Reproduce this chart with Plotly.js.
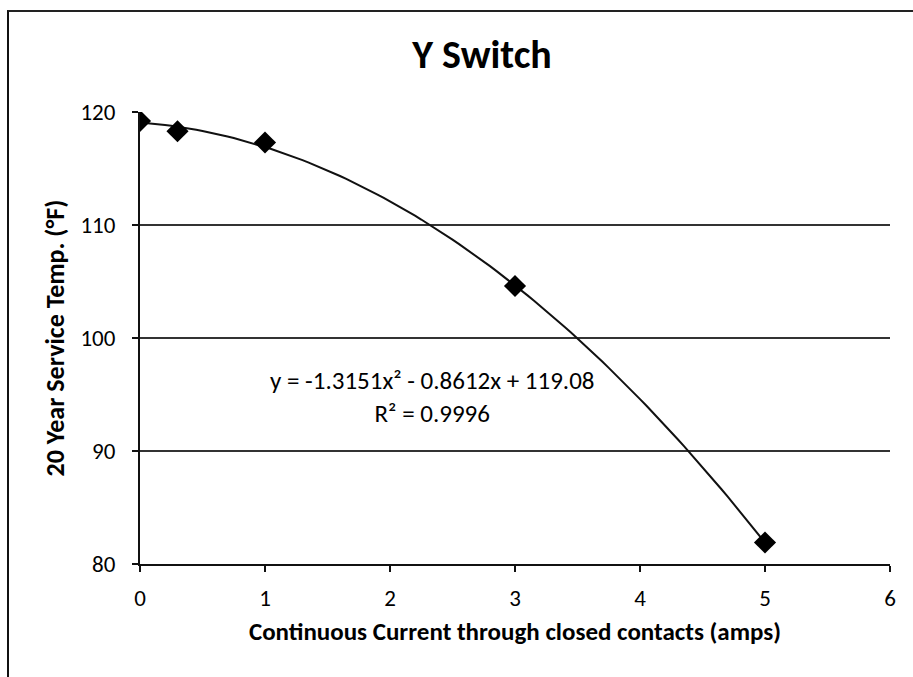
<!DOCTYPE html>
<html>
<head>
<meta charset="utf-8">
<script src="https://cdn.plot.ly/plotly-3.0.1.min.js"></script>
<style>
  html, body { margin: 0; padding: 0; background: #fff; }
  #wrap { position: relative; width: 913px; height: 677px; overflow: hidden; }
  #chart { width: 913px; height: 677px; }
  #frame { position: absolute; left: 7px; top: 10px; width: 920px; height: 700px;
           border-left: 2px solid #111; border-top: 2px solid #222; pointer-events: none; }
</style>
</head>
<body>
<div id="wrap">
  <div id="chart"></div>
  <div id="frame"></div>
</div>
<script>
// Data
const currentAmps = [0, 0.3, 1, 3, 5];
const serviceTempF = [119.2, 118.3, 117.3, 104.6, 81.9];
// Trendline coefficients shown on the chart: y = a x^2 + b x + c
const trendCoef = [-1.3151, -0.8612, 119.08];
const trendLabel = "y = -1.3151x² - 0.8612x + 119.08<br>R² = 0.9996";
const xTicks = [0, 1, 2, 3, 4, 5, 6];
const yTicks = [80, 90, 100, 110, 120];

// Trendline evaluated over the data range
const trendX = [];
const trendY = [];
for (let i = 0; i <= 100; i++) {
  const x = currentAmps[0] + (currentAmps[currentAmps.length - 1] - currentAmps[0]) * i / 100;
  trendX.push(x);
  trendY.push(trendCoef[0] * x * x + trendCoef[1] * x + trendCoef[2]);
}

const font = "Carlito, Lato, 'Open Sans', sans-serif";

const traces = [
  {
    x: trendX, y: trendY, mode: 'lines', type: 'scatter',
    line: { color: '#111', width: 2 }, hoverinfo: 'skip', showlegend: false
  },
  {
    x: currentAmps, y: serviceTempF, mode: 'markers', type: 'scatter',
    marker: { symbol: 'diamond', size: 17, color: '#000' }, showlegend: false
  }
];

const layout = {
  width: 913, height: 677,
  margin: { l: 140, r: 23, t: 112, b: 113 },
  paper_bgcolor: '#fff', plot_bgcolor: '#fff',
  font: { family: font, color: '#000', size: 18 },
  title: {
    text: '<b>Y Switch</b>', font: { family: font, size: 40, color: '#000' },
    x: 0.528, xanchor: 'center', y: 0.92, yanchor: 'middle'
  },
  xaxis: {
    range: [0, 6], tickvals: xTicks, ticktext: xTicks.map(String),
    showline: true, linecolor: '#111', linewidth: 2,
    ticks: 'outside', ticklen: 6, tickcolor: '#111', tickwidth: 1.5,
    ticklabelstandoff: 6,
    showgrid: false, zeroline: false,
    tickfont: { family: font, size: 23, color: '#000' },
    title: { text: '<b>Continuous Current through closed contacts (amps)</b>',
             font: { family: font, size: 25, color: '#000' }, standoff: 12 }
  },
  yaxis: {
    range: [80, 120], tickvals: yTicks, ticktext: yTicks.map(String),
    showline: true, linecolor: '#111', linewidth: 2,
    ticks: 'outside', ticklen: 6, tickcolor: '#111', tickwidth: 1.5,
    ticklabelstandoff: 12,
    showgrid: true, gridcolor: '#333', gridwidth: 1.2,
    zeroline: false,
    tickfont: { family: font, size: 23, color: '#000' },
    title: { text: '<b>20 Year Service Temp. (°F)</b>',
             font: { family: font, size: 26, color: '#000' }, standoff: 8 }
  },
  annotations: [
    {
      x: 2.34, y: 94.8, xref: 'x', yref: 'y', text: trendLabel, showarrow: false,
      font: { family: font, size: 25, color: '#000' }, align: 'center'
    }
  ]
};

Plotly.newPlot('chart', traces, layout, { displayModeBar: false, staticPlot: true });
</script>
</body>
</html>
